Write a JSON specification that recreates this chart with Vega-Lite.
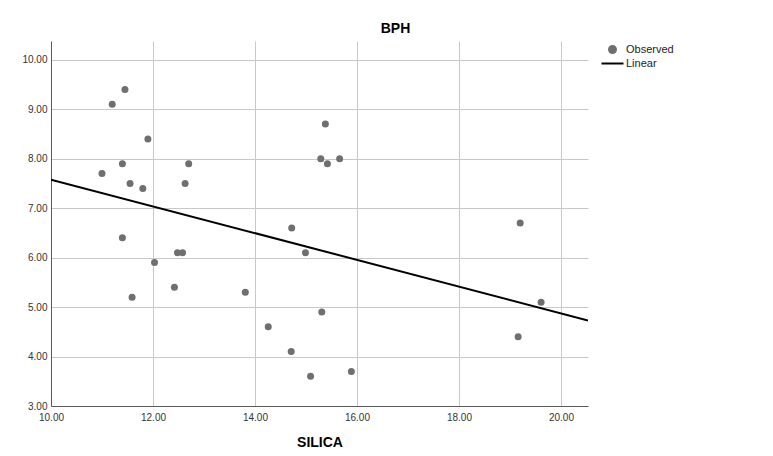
{
  "$schema": "https://vega.github.io/schema/vega-lite/v6.json",
  "autosize": {"type": "none"},
  "padding": {"left": 51, "top": 41, "right": 185, "bottom": 50},
  "width": 537,
  "height": 365,
  "background": "white",
  "title": {
    "text": "BPH",
    "anchor": "middle",
    "dx": 76,
    "offset": -6,
    "baseline": "alphabetic",
    "font": "Liberation Sans",
    "fontSize": 14,
    "fontWeight": "bold",
    "color": "#000000"
  },
  "datasets": {
    "observed": [
      {"silica": 11.45, "bph": 9.4, "series": "Observed"},
      {"silica": 11.2, "bph": 9.1, "series": "Observed"},
      {"silica": 11.9, "bph": 8.4, "series": "Observed"},
      {"silica": 11.4, "bph": 7.9, "series": "Observed"},
      {"silica": 11.0, "bph": 7.7, "series": "Observed"},
      {"silica": 11.55, "bph": 7.5, "series": "Observed"},
      {"silica": 11.8, "bph": 7.4, "series": "Observed"},
      {"silica": 12.7, "bph": 7.9, "series": "Observed"},
      {"silica": 12.63, "bph": 7.5, "series": "Observed"},
      {"silica": 11.4, "bph": 6.4, "series": "Observed"},
      {"silica": 12.48, "bph": 6.1, "series": "Observed"},
      {"silica": 12.58, "bph": 6.1, "series": "Observed"},
      {"silica": 12.03, "bph": 5.9, "series": "Observed"},
      {"silica": 12.42, "bph": 5.4, "series": "Observed"},
      {"silica": 11.59, "bph": 5.2, "series": "Observed"},
      {"silica": 15.38, "bph": 8.7, "series": "Observed"},
      {"silica": 15.29, "bph": 8.0, "series": "Observed"},
      {"silica": 15.42, "bph": 7.9, "series": "Observed"},
      {"silica": 15.66, "bph": 8.0, "series": "Observed"},
      {"silica": 14.72, "bph": 6.6, "series": "Observed"},
      {"silica": 14.99, "bph": 6.1, "series": "Observed"},
      {"silica": 13.81, "bph": 5.3, "series": "Observed"},
      {"silica": 15.31, "bph": 4.9, "series": "Observed"},
      {"silica": 14.26, "bph": 4.6, "series": "Observed"},
      {"silica": 14.71, "bph": 4.1, "series": "Observed"},
      {"silica": 15.09, "bph": 3.6, "series": "Observed"},
      {"silica": 15.89, "bph": 3.7, "series": "Observed"},
      {"silica": 19.2, "bph": 6.7, "series": "Observed"},
      {"silica": 19.61, "bph": 5.1, "series": "Observed"},
      {"silica": 19.16, "bph": 4.4, "series": "Observed"}
    ],
    "fit": [
      {"silica": 10.0, "bph": 7.576, "series": "Linear"},
      {"silica": 20.53, "bph": 4.73, "series": "Linear"}
    ]
  },
  "layer": [
    {
      "data": {"name": "fit"},
      "mark": {"type": "line", "strokeWidth": 2, "clip": true},
      "encoding": {
        "x": {"field": "silica", "type": "quantitative"},
        "y": {"field": "bph", "type": "quantitative"},
        "color": {"field": "series", "type": "nominal"}
      }
    },
    {
      "data": {"name": "observed"},
      "mark": {"type": "point", "filled": true, "size": 49, "opacity": 1},
      "encoding": {
        "x": {"field": "silica", "type": "quantitative"},
        "y": {"field": "bph", "type": "quantitative"},
        "color": {"field": "series", "type": "nominal"}
      }
    }
  ],
  "resolve": {"scale": {"color": "shared"}},
  "encoding": {
    "x": {
      "field": "silica",
      "type": "quantitative",
      "scale": {"domain": [10, 20.53], "nice": false, "zero": false},
      "axis": {
        "title": "SILICA",
        "values": [10, 12, 14, 16, 18, 20],
        "format": ".2f",
        "labelFlush": false,
        "labelPadding": 6,
        "titlePadding": 13,
        "titleFont": "Liberation Sans",
        "titleFontSize": 14,
        "titleFontWeight": "bold",
        "titleColor": "#000000"
      }
    },
    "y": {
      "field": "bph",
      "type": "quantitative",
      "scale": {"domain": [3, 10.38], "nice": false, "zero": false},
      "axis": {
        "title": null,
        "values": [3, 4, 5, 6, 7, 8, 9, 10],
        "format": ".2f",
        "labelFlush": false,
        "labelPadding": 4
      }
    },
    "color": {
      "field": "series",
      "type": "nominal",
      "scale": {"domain": ["Observed", "Linear"], "range": ["#6f6f6f", "#000000"]},
      "legend": {
        "title": null,
        "orient": "none",
        "legendX": 556,
        "legendY": 3,
        "padding": 0,
        "symbolSize": 49,
        "symbolStrokeWidth": 1.5,
        "labelOffset": 8,
        "rowPadding": 0,
        "labelFont": "Liberation Sans",
        "labelFontSize": 11,
        "labelColor": "#222222",
        "encode": {
          "symbols": {
            "update": {
              "shape": {"signal": "datum.value === 'Linear' ? 'stroke' : 'circle'"},
              "size": {"signal": "datum.value === 'Linear' ? 484 : 49"},
              "fill": {"signal": "datum.value === 'Linear' ? 'transparent' : '#6f6f6f'"},
              "stroke": {"signal": "datum.value === 'Linear' ? '#000000' : 'transparent'"},
              "strokeWidth": {"value": 2},
              "opacity": {"value": 1}
            }
          }
        }
      }
    }
  },
  "config": {
    "view": {"stroke": null},
    "axis": {
      "labelFont": "Liberation Sans",
      "labelFontSize": 10,
      "labelColor": "#333333",
      "ticks": false,
      "grid": true,
      "gridColor": "#c8c8c8",
      "gridWidth": 1,
      "gridOpacity": 1,
      "domainColor": "#5a5a5a",
      "domainWidth": 1
    }
  }
}
